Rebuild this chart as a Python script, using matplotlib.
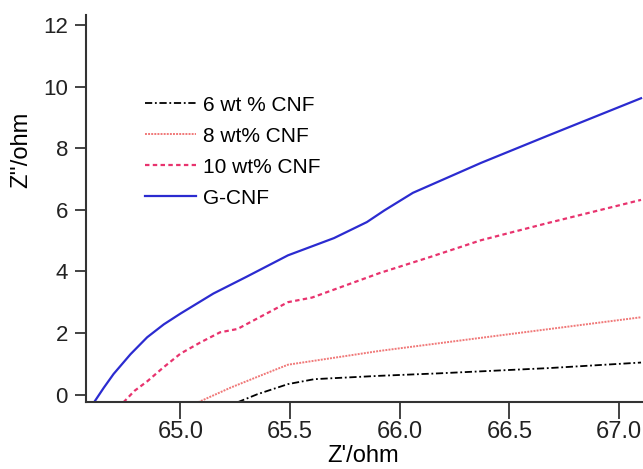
import matplotlib
matplotlib.use('Agg')
import matplotlib.pyplot as plt

plt.rcParams['font.family'] = 'Liberation Sans'

# Nyquist data
x_6wt = [65.26, 65.35, 65.49, 65.61, 65.69, 65.91, 66.18, 66.68, 67.10]
y_6wt = [-0.25, 0.01, 0.34, 0.50, 0.53, 0.61, 0.69, 0.86, 1.04]

x_8wt = [65.08, 65.23, 65.38, 65.49, 65.91, 66.52, 67.10]
y_8wt = [-0.25, 0.23, 0.66, 0.97, 1.42, 1.98, 2.51]

x_10wt = [64.74, 64.79, 64.85, 64.92, 65.00, 65.09, 65.18, 65.26, 65.49, 65.60, 65.91, 66.14, 66.37, 66.67, 67.10]
y_10wt = [-0.25, 0.12, 0.44, 0.87, 1.33, 1.69, 2.02, 2.13, 3.00, 3.15, 3.95, 4.47, 5.01, 5.56, 6.32]

x_gcnf = [64.605, 64.65, 64.695, 64.772, 64.848, 64.924, 65.00, 65.15, 65.30, 65.49, 65.70, 65.85, 65.93, 66.06, 66.37, 66.67, 67.10]
y_gcnf = [-0.26, 0.22, 0.67, 1.31, 1.86, 2.28, 2.63, 3.28, 3.82, 4.52, 5.08, 5.60, 5.98, 6.55, 7.52, 8.39, 9.62]

labels = ['6 wt % CNF', '8 wt% CNF', '10 wt% CNF', 'G-CNF']

fig = plt.figure(figsize=(6.43, 4.69), dpi=100)
ax = fig.add_axes([0.1337, 0.1429, 0.8663, 0.825])

ax.plot(x_6wt, y_6wt, color='black', ls=(0, (4, 1.5, 1, 1.5)), lw=1.3, label=labels[0])
ax.plot(x_8wt, y_8wt, color='#f07878', ls=(0, (1, 0.6)), lw=1.4, label=labels[1])
ax.plot(x_10wt, y_10wt, color='#e8336e', ls=(0, (2, 1.5)), lw=1.6, label=labels[2])
ax.plot(x_gcnf, y_gcnf, color='#2b2bd0', ls='-', lw=1.6, label=labels[3])

ax.set_xlim(64.569, 67.109)
ax.set_ylim(-0.24, 12.32)
ax.set_xticks([65.0, 65.5, 66.0, 66.5, 67.0])
ax.set_xticklabels(['65.0', '65.5', '66.0', '66.5', '67.0'])
ax.set_yticks([0, 2, 4, 6, 8, 10, 12])

for s in ['top', 'right']:
    ax.spines[s].set_visible(False)
for s in ['left', 'bottom']:
    ax.spines[s].set_color('#333333')
    ax.spines[s].set_linewidth(1.5)

ax.tick_params(axis='x', direction='out', length=12, width=1.2, pad=2, labelsize=17, colors='#222222')
ax.tick_params(axis='y', direction='out', length=8, width=1.2, pad=5, labelsize=16, colors='#222222')

ax.set_xlabel("Z'/ohm", fontsize=17)
ax.xaxis.set_label_coords(0.497, -0.112)
ax.set_ylabel("Z''/ohm", fontsize=17)
ax.yaxis.set_label_coords(-0.097, 0.652)

ax.legend(loc='upper left', bbox_to_anchor=(0.106, 0.792), frameon=False, fontsize=15,
          handlelength=2.45, handletextpad=0.32, labelspacing=0.58, borderpad=0, borderaxespad=0)

fig.savefig('out.png', dpi=100)
